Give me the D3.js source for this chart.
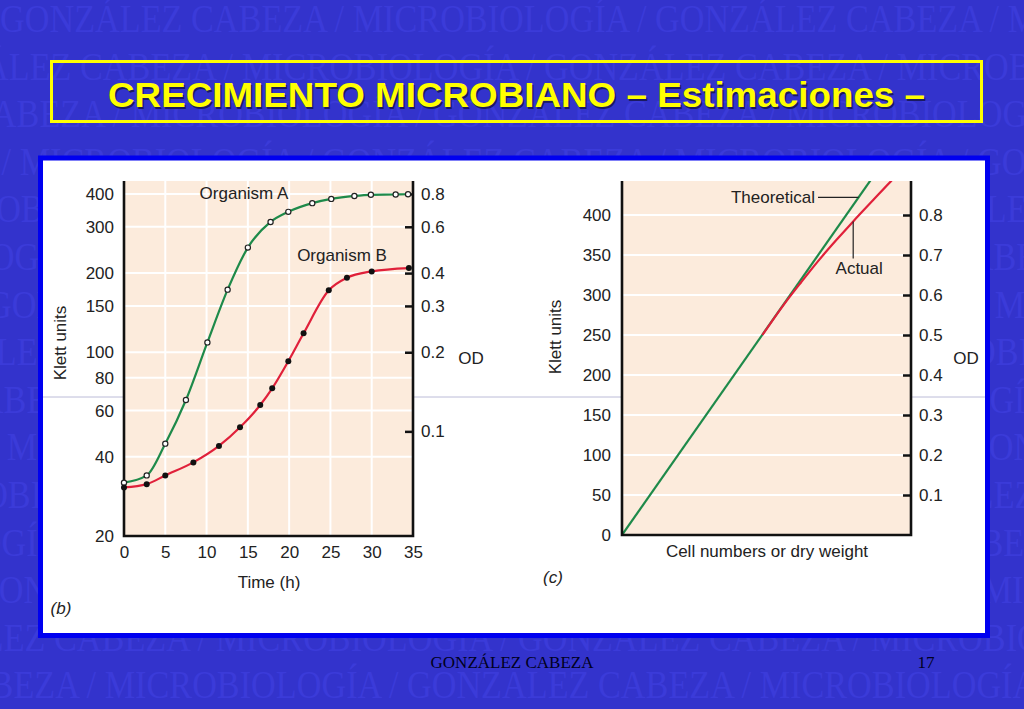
<!DOCTYPE html>
<html>
<head>
<meta charset="utf-8">
<script src="https://cdn.jsdelivr.net/npm/d3@7"></script>
<style>
  body { margin: 0; background: #3333cc; }
  svg { display: block; }
  .sans { font-family: "Liberation Sans", Arial, sans-serif; }
</style>
</head>
<body>
<script>
// ---- data ----
// panel (b): growth curves, Klett units on a log scale
const hoursA = [0, 2.75, 5, 7.5, 10.1, 12.55, 15, 17.75, 19.9, 22.8, 25.1, 27.9, 29.9, 32.9, 34.4];
const klettA = [31.9, 34, 44.9, 65.8, 109, 173, 250, 313, 342, 369, 383, 393, 397, 398, 399];
const hoursB = [0, 2.75, 5, 8.4, 11.5, 14.05, 16.5, 17.95, 19.9, 21.75, 24.8, 27, 30, 34.5];
const klettB = [30.6, 31.5, 34, 38.1, 44, 51.8, 63, 72.9, 92.4, 118, 172, 192, 203, 209];
const timeTicks = [0, 5, 10, 15, 20, 25, 30, 35];
const klettLogTicks = [20, 40, 60, 80, 100, 150, 200, 300, 400];
const odLogTicks = [0.1, 0.2, 0.3, 0.4, 0.6, 0.8];

// panel (c): Klett units vs cell numbers (arbitrary units 0-100)
const cellsTheo = [0, 90];
const klettTheo = [0, 464];
const cellsActual = [48.6, 56, 62, 68, 74, 80, 87, 93, 96];
const klettActual = [250, 288, 316, 343, 368, 392, 419, 442, 453];
const klettLinTicks = [0, 50, 100, 150, 200, 250, 300, 350, 400];
const odLinTicks = [0.1, 0.2, 0.3, 0.4, 0.5, 0.6, 0.7, 0.8];

const klettPerOD = 500;
const watermarkText = "GONZÁLEZ CABEZA / MICROBIOLOGÍA / ";

// ---- layout ----
const W = 1024, H = 709;
const svg = d3.select("body").append("svg").attr("width", W).attr("height", H);

svg.append("rect").attr("width", W).attr("height", H).attr("fill", "#3333cc");

drawWatermark();
drawTitle();
drawPanel();
drawGrowthChart({left: 124, right: 413, top: 181, bottom: 536});
drawLinearChart({left: 622, right: 911, top: 181, bottom: 535});
drawFooter();

function drawWatermark() {
  const g = svg.append("g").attr("class", "watermark");
  const period = 653, shift = 111, rowGap = 47.6;
  d3.range(15).forEach(i => {
    const t = g.append("text")
      .attr("font-family", "'Liberation Serif', 'Times New Roman', serif")
      .attr("font-size", 40)
      .attr("fill", "#3b3bd9")
      .text(watermarkText.repeat(4));
    const one = t.node().getComputedTextLength() / 4;
    const sx = period / one;
    const off = (i * shift) % period;
    t.attr("transform", `translate(${-off}, ${32 + i * rowGap}) scale(${sx}, 1)`);
  });
}

function drawTitle() {
  svg.append("rect")
    .attr("x", 51.5).attr("y", 61.5).attr("width", 930).attr("height", 60)
    .attr("fill", "none").attr("stroke", "#ffff00").attr("stroke-width", 3);
  const title = "CRECIMIENTO MICROBIANO – Estimaciones –";
  svg.append("text").attr("class", "sans")
    .attr("x", 109.5).attr("y", 108.5)
    .attr("font-size", 35).attr("font-weight", "bold")
    .attr("textLength", 817).attr("lengthAdjust", "spacingAndGlyphs")
    .attr("fill", "#1a1a60").text(title);
  svg.append("text").attr("class", "sans")
    .attr("x", 108).attr("y", 107)
    .attr("font-size", 35).attr("font-weight", "bold")
    .attr("textLength", 817).attr("lengthAdjust", "spacingAndGlyphs")
    .attr("fill", "#ffff00").text(title);
}

function drawPanel() {
  svg.append("rect")
    .attr("x", 40.5).attr("y", 158).attr("width", 947).attr("height", 477.5)
    .attr("fill", "#ffffff").attr("stroke", "#0000f0").attr("stroke-width", 5);
  // faint scan line across the figure
  svg.append("line")
    .attr("x1", 43).attr("x2", 985).attr("y1", 397).attr("y2", 397)
    .attr("stroke", "#bcbcd8").attr("stroke-width", 1);
}

function styleAxis(g, size) {
  g.attr("font-family", "'Liberation Sans', Arial, sans-serif")
   .attr("font-size", size);
  g.select(".domain").remove();
  g.selectAll("text").attr("fill", "#222");
  g.selectAll(".tick line").attr("stroke", "#111").attr("stroke-width", 2.5);
}

function drawFrame(g, b) {
  g.append("path")
    .attr("d", `M${b.left},${b.top}V${b.bottom}H${b.right}V${b.top}`)
    .attr("fill", "none").attr("stroke", "#111").attr("stroke-width", 2.6);
}

function drawGrowthChart(b) {
  const g = svg.append("g");
  const x = d3.scaleLinear().domain([0, 35]).range([b.left, b.right]);
  const y = d3.scaleLog().domain([20, 448]).range([b.bottom, b.top]);
  const od = d3.scaleLog().domain([20 / klettPerOD, 448 / klettPerOD]).range([b.bottom, b.top]);

  g.append("rect").attr("x", b.left).attr("y", b.top)
    .attr("width", b.right - b.left).attr("height", b.bottom - b.top)
    .attr("fill", "#fcebdc");

  // white grid
  g.selectAll(".hgrid").data(klettLogTicks.slice(1)).enter().append("line")
    .attr("x1", b.left).attr("x2", b.right)
    .attr("y1", d => y(d)).attr("y2", d => y(d))
    .attr("stroke", "#fff").attr("stroke-width", 2);
  g.selectAll(".vgrid").data(timeTicks.slice(1, -1)).enter().append("line")
    .attr("y1", b.top).attr("y2", b.bottom)
    .attr("x1", d => x(d)).attr("x2", d => x(d))
    .attr("stroke", "#fff").attr("stroke-width", 2);

  g.append("g").attr("transform", `translate(${b.left},0)`)
    .call(d3.axisLeft(y).tickValues(klettLogTicks).tickFormat(d3.format("d")).tickSize(0).tickPadding(10))
    .call(a => styleAxis(a, 17));
  g.append("g").attr("transform", `translate(0,${b.bottom})`)
    .call(d3.axisBottom(x).tickValues(timeTicks).tickSize(0).tickPadding(10))
    .call(a => styleAxis(a, 17));
  g.append("g").attr("transform", `translate(${b.right},0)`)
    .call(d3.axisRight(od).tickValues(odLogTicks).tickFormat(d3.format(".1f")).tickSizeInner(-8).tickPadding(8))
    .call(a => styleAxis(a, 17));

  const line = d3.line().curve(d3.curveMonotoneX).x(d => x(d[0])).y(d => y(d[1]));
  const dataA = hoursA.map((h, i) => [h, klettA[i]]);
  const dataB = hoursB.map((h, i) => [h, klettB[i]]);

  g.append("path").datum(dataB).attr("d", line)
    .attr("fill", "none").attr("stroke", "#e0203a").attr("stroke-width", 2.2);
  g.append("path").datum(dataA).attr("d", line)
    .attr("fill", "none").attr("stroke", "#1e8a4a").attr("stroke-width", 2.2);

  drawFrame(g, b);

  g.selectAll(".ptA").data(dataA).enter().append("circle")
    .attr("cx", d => x(d[0])).attr("cy", d => y(d[1])).attr("r", 2.6)
    .attr("fill", "#fff").attr("stroke", "#222").attr("stroke-width", 1.2);
  g.selectAll(".ptB").data(dataB).enter().append("circle")
    .attr("cx", d => x(d[0])).attr("cy", d => y(d[1])).attr("r", 3)
    .attr("fill", "#111");

  const txt = (tx, ty, s, extra) => {
    const t = g.append("text").attr("class", "sans").attr("x", tx).attr("y", ty)
      .attr("font-size", 17).attr("fill", "#222").attr("text-anchor", "middle").text(s);
    if (extra) extra(t);
    return t;
  };
  txt(244, 199, "Organism A");
  txt(342, 261, "Organism B");
  txt(471, 364, "OD");
  txt(269, 588, "Time (h)");
  txt(0, 0, "Klett units", t => t.attr("transform", "translate(66,343) rotate(-90)"));
  txt(61, 614, "(b)", t => t.attr("font-style", "italic"));
}

function drawLinearChart(b) {
  const g = svg.append("g");
  const x = d3.scaleLinear().domain([0, 100]).range([b.left, b.right]);
  const y = d3.scaleLinear().domain([0, 442.5]).range([b.bottom, b.top]);
  const od = d3.scaleLinear().domain([0, 442.5 / klettPerOD]).range([b.bottom, b.top]);

  g.append("rect").attr("x", b.left).attr("y", b.top)
    .attr("width", b.right - b.left).attr("height", b.bottom - b.top)
    .attr("fill", "#fcebdc");

  g.selectAll(".hgrid").data(klettLinTicks.slice(1)).enter().append("line")
    .attr("x1", b.left).attr("x2", b.right)
    .attr("y1", d => y(d)).attr("y2", d => y(d))
    .attr("stroke", "#fff").attr("stroke-width", 2);

  g.append("g").attr("transform", `translate(${b.left},0)`)
    .call(d3.axisLeft(y).tickValues(klettLinTicks).tickSize(0).tickPadding(11))
    .call(a => styleAxis(a, 17));
  g.append("g").attr("transform", `translate(${b.right},0)`)
    .call(d3.axisRight(od).tickValues(odLinTicks).tickFormat(d3.format(".1f")).tickSizeInner(-8).tickPadding(8))
    .call(a => styleAxis(a, 17));

  const clipId = "clipC";
  svg.append("clipPath").attr("id", clipId).append("rect")
    .attr("x", b.left).attr("y", b.top)
    .attr("width", b.right - b.left).attr("height", b.bottom - b.top);

  const line = d3.line().curve(d3.curveMonotoneX).x(d => x(d[0])).y(d => y(d[1]));
  const theo = cellsTheo.map((c, i) => [c, klettTheo[i]]);
  const actual = cellsActual.map((c, i) => [c, klettActual[i]]);

  const lines = g.append("g").attr("clip-path", `url(#${clipId})`);
  lines.append("path").datum(theo).attr("d", line)
    .attr("fill", "none").attr("stroke", "#1e8a4a").attr("stroke-width", 2.2);
  lines.append("path").datum(actual).attr("d", line)
    .attr("fill", "none").attr("stroke", "#e0203a").attr("stroke-width", 2.2);

  drawFrame(g, b);

  // annotations with leader lines
  const theoAt = 422;
  const theoX = x(theoAt * cellsTheo[1] / klettTheo[1]);
  g.append("line").attr("x1", 818).attr("x2", theoX)
    .attr("y1", y(theoAt)).attr("y2", y(theoAt))
    .attr("stroke", "#222").attr("stroke-width", 1.2);
  g.append("text").attr("class", "sans").attr("x", 815).attr("y", y(theoAt) + 5.5)
    .attr("font-size", 17).attr("fill", "#222").attr("text-anchor", "end").text("Theoretical");

  const ax = x(cellsActual[5]), ay = y(klettActual[5]);
  g.append("line").attr("x1", ax).attr("x2", ax).attr("y1", ay).attr("y2", ay + 37)
    .attr("stroke", "#222").attr("stroke-width", 1.2);
  g.append("text").attr("class", "sans").attr("x", ax + 6).attr("y", ay + 53)
    .attr("font-size", 17).attr("fill", "#222").attr("text-anchor", "middle").text("Actual");

  const txt = (tx, ty, s) => g.append("text").attr("class", "sans").attr("x", tx).attr("y", ty)
    .attr("font-size", 17).attr("fill", "#222").attr("text-anchor", "middle").text(s);
  txt(966, 364, "OD");
  txt(767, 557, "Cell numbers or dry weight");
  txt(553, 583, "(c)").attr("font-style", "italic");
  txt(0, 0, "Klett units").attr("transform", "translate(561,337) rotate(-90)");
}

function drawFooter() {
  const serif = "'Liberation Serif', 'Times New Roman', serif";
  svg.append("text").attr("x", 512).attr("y", 668)
    .attr("font-family", serif).attr("font-size", 17).attr("fill", "#000020")
    .attr("text-anchor", "middle").text("GONZÁLEZ CABEZA");
  svg.append("text").attr("x", 926).attr("y", 668)
    .attr("font-family", serif).attr("font-size", 17).attr("fill", "#000020")
    .attr("text-anchor", "middle").text("17");
}
</script>
</body>
</html>
